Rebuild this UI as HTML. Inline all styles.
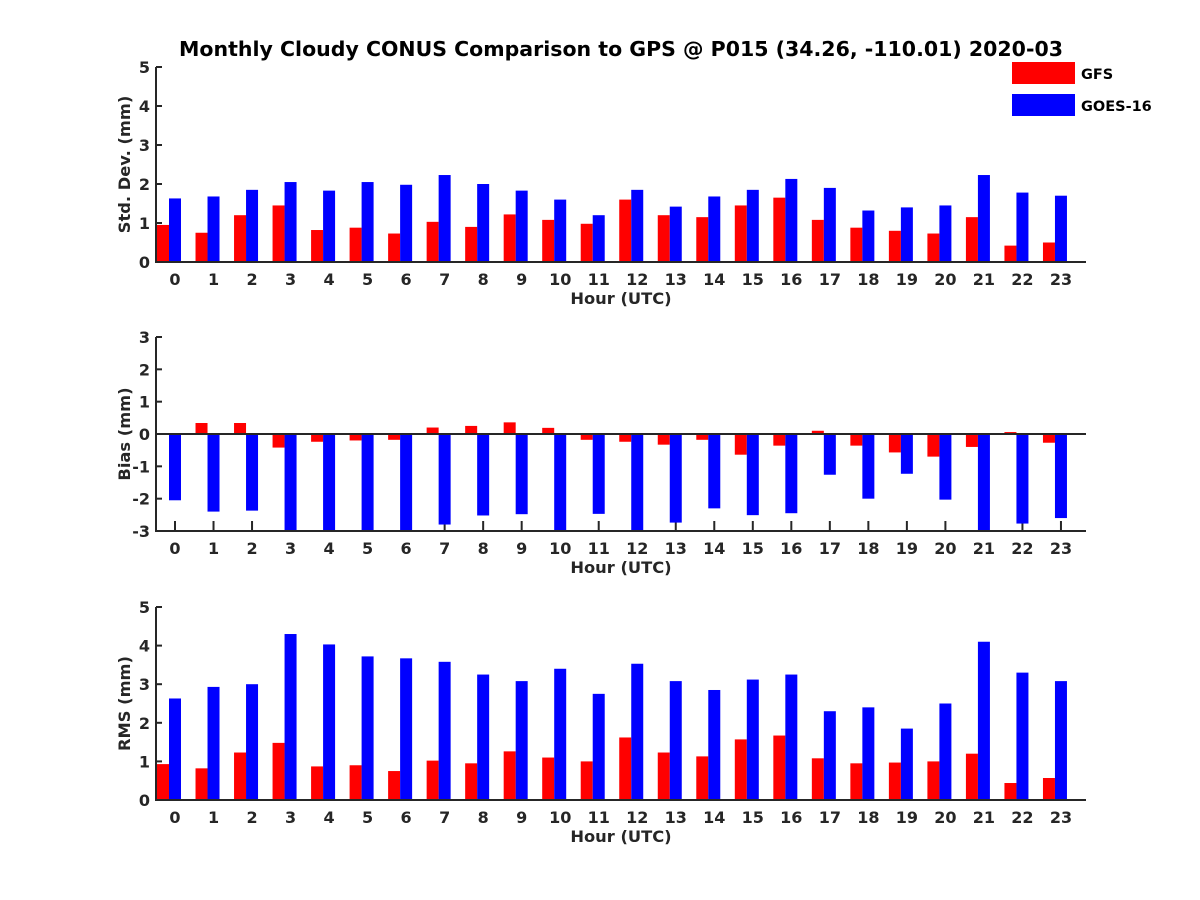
<!DOCTYPE html>
<html><head><meta charset="utf-8"><style>body{margin:0;background:#fff}svg{display:block;font-family:"DejaVu Sans","Liberation Sans",sans-serif;font-weight:bold}</style></head>
<body>
<svg id="c" width="1200" height="900">
<text x="621" y="56" font-size="20.5" text-anchor="middle" fill="#000">Monthly Cloudy CONUS Comparison to GPS @ P015 (34.26, -110.01) 2020-03</text>
<rect x="1012" y="62" width="63" height="22" fill="#ff0000"/>
<text x="1081" y="79" font-size="14.5">GFS</text>
<rect x="1012" y="94" width="63" height="22" fill="#0000ff"/>
<text x="1081" y="111" font-size="14.5">GOES-16</text>
</svg>
<script>
const hours=[0,1,2,3,4,5,6,7,8,9,10,11,12,13,14,15,16,17,18,19,20,21,22,23];
const stdGFS=[0.95,0.75,1.2,1.45,0.82,0.88,0.73,1.03,0.9,1.22,1.08,0.98,1.6,1.2,1.15,1.45,1.65,1.08,0.88,0.8,0.73,1.15,0.42,0.5];
const stdGOES=[1.63,1.68,1.85,2.05,1.83,2.05,1.98,2.23,2.0,1.83,1.6,1.2,1.85,1.42,1.68,1.85,2.13,1.9,1.32,1.4,1.45,2.23,1.78,1.7];
const biasGFS=[0.01,0.34,0.34,-0.42,-0.24,-0.2,-0.18,0.2,0.25,0.36,0.19,-0.18,-0.24,-0.33,-0.18,-0.64,-0.36,0.1,-0.36,-0.57,-0.7,-0.4,0.06,-0.27];
const biasGOES=[-2.05,-2.4,-2.37,-3.2,-3.2,-3.3,-3.1,-2.8,-2.52,-2.48,-3.1,-2.47,-3.2,-2.74,-2.3,-2.51,-2.45,-1.26,-2.0,-1.23,-2.03,-3.1,-2.77,-2.6];
const rmsGFS=[0.93,0.82,1.23,1.48,0.87,0.9,0.75,1.02,0.95,1.26,1.1,1.0,1.62,1.23,1.13,1.57,1.67,1.08,0.95,0.97,1.0,1.2,0.44,0.57];
const rmsGOES=[2.63,2.93,3.0,4.3,4.03,3.72,3.67,3.58,3.25,3.08,3.4,2.75,3.53,3.08,2.85,3.12,3.25,2.3,2.4,1.85,2.5,4.1,3.3,3.08];
const stdTicks=[0,1,2,3,4,5], biasTicks=[-3,-2,-1,0,1,2,3], rmsTicks=[0,1,2,3,4,5];
const svg=document.getElementById('c'), NS='http://www.w3.org/2000/svg';
function mk(t,a){const e=document.createElementNS(NS,t);for(const k in a)e.setAttribute(k,a[k]);svg.appendChild(e);return e;}
const X0=156,X1=1086;
const xs=h=>175+h*38.52;
function panel(id,top,bot,ymin,ymax,ticks,ylabel,g1,g2){
  const ys=v=>bot-(Math.max(ymin,Math.min(ymax,v))-ymin)/(ymax-ymin)*(bot-top);
  const col='#262626';
  hours.forEach(h=>{const t=mk('line',{x1:xs(h),x2:xs(h),y1:bot,y2:bot-10,stroke:col,'stroke-width':2});
    
    const l=mk('text',{x:xs(h),y:bot+23,'font-size':16,'text-anchor':'middle',fill:col});l.textContent=h;
    });
  ticks.forEach(v=>{const t=mk('line',{x1:X0,x2:X0+6,y1:ys(v),y2:ys(v),stroke:col,'stroke-width':2});
    
    const l=mk('text',{x:X0-6,y:ys(v)+6,'font-size':16,'text-anchor':'end',fill:col});l.textContent=v;
    });
  const z=ys(Math.max(ymin,0));
  hours.forEach((h,i)=>{
    const a=ys(g1[i]),b=ys(g2[i]);
    const r=mk('rect',{x:xs(h)-18,y:Math.min(a,z),width:12,height:Math.abs(a-z),fill:'#ff0000'});
    
    const q=mk('rect',{x:xs(h)-6,y:Math.min(b,z),width:12,height:Math.abs(b-z),fill:'#0000ff'});
    
  });
  const ax=mk('path',{d:`M${X0},${top} V${bot} H${X1}`,fill:'none',stroke:col,'stroke-width':2});
  
  if(ymin<0){const zl=mk('line',{x1:X0,x2:X1,y1:z,y2:z,stroke:col,'stroke-width':2});
    }
  const xt=mk('text',{x:621,y:bot+42,'font-size':16.3,'text-anchor':'middle',fill:col});xt.textContent='Hour (UTC)';
  
  const cy=(top+bot)/2;
  const yt=mk('text',{x:130,y:cy,'font-size':16.3,'text-anchor':'middle',fill:col,transform:`rotate(-90 130 ${cy})`});yt.textContent=ylabel;
  
}
panel('std',67,262,0,5,stdTicks,'Std. Dev. (mm)',stdGFS,stdGOES);
panel('bias',337,531,-3,3,biasTicks,'Bias (mm)',biasGFS,biasGOES);
panel('rms',607,800,0,5,rmsTicks,'RMS (mm)',rmsGFS,rmsGOES);
</script>
</body></html>
